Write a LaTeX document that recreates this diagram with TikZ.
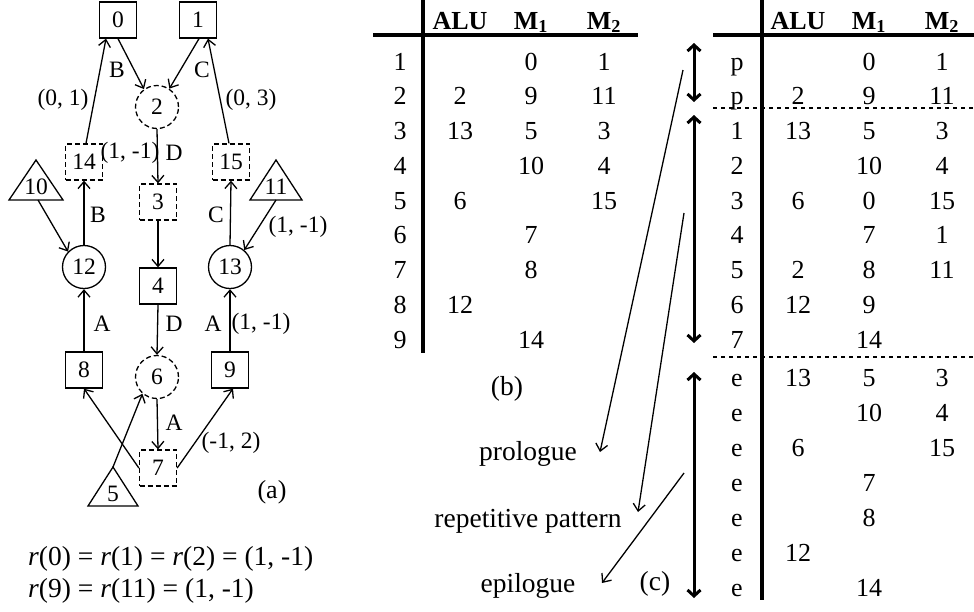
\documentclass[tikz,border=0pt]{standalone}
\usepackage{fontspec}
\setmainfont{Liberation Serif}
\usetikzlibrary{arrows.meta}
\newcommand\fontA{\fontsize{23.5}{28}\selectfont}
\newcommand\fontB{\fontsize{26}{30}\selectfont}
\newcommand\fontC{\fontsize{27.5}{32}\selectfont}
\tikzset{
 thin/.style={line width=1.3pt},
 sq/.style={draw, line width=1.3pt, minimum width=37pt, minimum height=36pt, inner sep=0pt, font=\fontA},
 dsq/.style={sq, dash pattern=on 5pt off 3pt},
 cir/.style={draw, circle, line width=1.3pt, minimum size=43pt, inner sep=0pt, font=\fontA},
 dcir/.style={cir, dash pattern=on 5pt off 3pt},
 lab/.style={font=\fontA, inner sep=0pt},
 arr/.style={line width=1.3pt, -{Straight Barb[length=7pt,width=12pt]}},
 cell/.style={font=\fontB, inner sep=0pt, anchor=base},
 txt/.style={font=\fontC, inner sep=0pt, anchor=base},
 rule/.style={line width=3.5pt},
 vrule/.style={line width=4pt},
 sep/.style={line width=1.5pt, dash pattern=on 4pt off 4pt},
 dbl/.style={line width=3pt, {Straight Barb[length=6pt,width=13pt]}-{Straight Barb[length=6pt,width=13pt]}},
}
\begin{document}
\begin{tikzpicture}[x=1pt,y=-1pt]
\useasboundingbox (0,0) rectangle (974,611);
% ---------- (a) ----------
\node[sq] (n0) at (118,20) {0};
\node[sq] (n1) at (198,20) {1};
\node[dcir] (n2) at (157,107) {2};
\node[dsq] (n14) at (84,162) {14};
\node[dsq] (n15) at (231,162) {15};
\node[dsq] (n3) at (158,202) {3};
\node[cir] (n12) at (84,267) {12};
\node[cir] (n13) at (230,267) {13};
\node[sq] (n4) at (158,286) {4};
\node[sq] (n8) at (84,370) {8};
\node[dcir] (n6) at (157,377) {6};
\node[sq] (n9) at (230,370) {9};
\node[dsq] (n7) at (158,468) {7};
% triangles
\draw[thin, line join=miter] (36,160) -- (63,200) -- (9,200) -- cycle;
\node[lab] (t10) at (36,187) {10};
\coordinate (t10b) at (38,200);
\draw[thin, line join=miter] (276,160) -- (302,200) -- (250,200) -- cycle;
\node[lab] (t11) at (276,187) {11};
\coordinate (t11b) at (276,200);
\draw[thin, line join=miter] (113,467) -- (138,506) -- (88,506) -- cycle;
\node[lab] (t5) at (113,494) {5};
\coordinate (t5a) at (113,467);
% edges
\draw[arr] ([xshift=2pt]n14.north) -- ([xshift=-12pt]n0.south);
\draw[arr] (n0.south) -- (n2.126);
\draw[arr] ([xshift=1pt]n1.south) -- (n2.56);
\draw[arr] ([xshift=-2pt]n15.north) -- ([xshift=10pt]n1.south);
\draw[arr] (n2.south) -- (n3.north);
\draw[arr] (n12.north) -- (n14.south);
\draw[arr] (t10b) -- (n12.136);
\draw[arr] (n13.north) -- (n15.south);
\draw[arr] (t11b) -- (n13.50);
\draw[arr] (n3.south) -- (n4.north);
\draw[arr] (n8.north) -- (n12.south);
\draw[arr] (n4.south) -- (n6.north);
\draw[arr] (n9.north) -- (n13.south);
\draw[arr] (n6.south) -- (n7.north);
\draw[arr] (n7.west) -- (n8.south);
\draw[arr] (t5a) -- (n6.229);
\draw[arr] (n7.east) -- ([xshift=3pt]n9.south);
% edge labels
\node[lab] (l1) at (117,70) {B};
\node[lab] (l2) at (202,70) {C};
\node[lab] (l3) at (63,100) {(0, 1)};
\node[lab] (l4) at (251,100) {(0, 3)};
\node[lab] (l5) at (130,153) {(1, -1)};
\node[lab] (l6) at (174,153) {D};
\node[lab] (l7) at (98,215) {B};
\node[lab] (l8) at (216,215) {C};
\node[lab] (l9) at (298,227) {(1, -1)};
\node[lab] (l10) at (102,324) {A};
\node[lab] (l11) at (174,324) {D};
\node[lab] (l12) at (213,324) {A};
\node[lab] (l13) at (261,324) {(1, -1)};
\node[lab] (l14) at (174,423) {A};
\node[lab] (l15) at (231,443) {(-1, 2)};
\node[lab, font=\fontB] (la) at (272,492) {(a)};
\node[txt, anchor=base west] (r1) at (28,565) {\textit{r}(0) = \textit{r}(1) = \textit{r}(2) = (1, -1)};
\node[txt, anchor=base west] (r2) at (28,597) {\textit{r}(9) = \textit{r}(11) = (1, -1)};
% ---------- (b) ----------
\draw[rule] (373,35) -- (638,35);
\draw[vrule] (423,0) -- (423,353);
\node[cell] (bhA) at (460,29) {\bfseries ALU};
\node[cell] (bh1) at (531,29) {\bfseries M\textsubscript{1}};
\node[cell] (bh2) at (604,29) {\bfseries M\textsubscript{2}};
\foreach \i in {1,...,9}{
  \node[cell] (br\i) at (400,{70+34.75*(\i-1)}) {\i};
}
\foreach \r/\x/\t [count=\k] in {1/531/0,1/604/1,
  2/460/2,2/531/9,2/604/11,
  3/460/13,3/531/5,3/604/3,
  4/531/10,4/604/4,
  5/460/6,5/604/15,
  6/531/7, 7/531/8, 8/460/12, 9/531/14}{
  \node[cell] (bc\k) at (\x,{70+34.75*(\r-1)}) {\t};
}
\node[txt] (lb) at (507,395) {(b)};
% ---------- (c) ----------
\draw[rule] (713,35) -- (974,35);
\draw[vrule] (762,0) -- (762,600);
\draw[sep] (713,108) -- (974,108);
\draw[sep] (713,357) -- (974,357);
\node[cell] (chA) at (798,29) {\bfseries ALU};
\node[cell] (ch1) at (869,29) {\bfseries M\textsubscript{1}};
\node[cell] (ch2) at (942,29) {\bfseries M\textsubscript{2}};
\foreach \t [count=\i] in {p,p,1,2,3,4,5,6,7}{
  \node[cell] (cr\i) at (737,{70+34.75*(\i-1)}) {\t};
}
\foreach \r/\x/\t [count=\k] in {1/869/0,1/942/1,
  2/798/2,2/869/9,2/942/11,
  3/798/13,3/869/5,3/942/3,
  4/869/10,4/942/4,
  5/798/6,5/869/0,5/942/15,
  6/869/7,6/942/1,
  7/798/2,7/869/8,7/942/11,
  8/798/12,8/869/9,
  9/869/14}{
  \node[cell] (cc\k) at (\x,{70+34.75*(\r-1)}) {\t};
}
\foreach \i in {0,...,6}{
  \node[cell] (ce\i) at (737,{386+35*\i}) {e};
}
\foreach \r/\x/\t [count=\k] in {0/798/13,0/869/5,0/942/3,
  1/869/10,1/942/4,
  2/798/6,2/942/15,
  3/869/7, 4/869/8, 5/798/12, 6/869/14}{
  \node[cell] (ec\k) at (\x,{386+35*\r}) {\t};
}
% double arrows
\coordinate (d1a) at (694,43); \coordinate (d1b) at (694,102);
\coordinate (d2a) at (694,115); \coordinate (d2b) at (694,343);
\coordinate (d3a) at (694,372); \coordinate (d3b) at (694,598);
\draw[dbl] (d1a) -- (d1b);
\draw[dbl] (d2a) -- (d2b);
\draw[dbl] (d3a) -- (d3b);
% labels and pointers
\node[txt] (pro) at (528,460) {prologue};
\node[txt] (rep) at (528,527) {repetitive pattern};
\node[txt] (epi) at (528,592) {epilogue};
\node[txt] (lc) at (655,590) {(c)};
\coordinate (p1) at (683,70); \coordinate (q1) at (600,452);
\coordinate (p2) at (684,213); \coordinate (q2) at (638,512);
\coordinate (p3) at (684,473); \coordinate (q3) at (602,583);
\draw[arr] (p1) -- (q1);
\draw[arr] (p2) -- (q2);
\draw[arr] (p3) -- (q3);
\end{tikzpicture}
\end{document}
